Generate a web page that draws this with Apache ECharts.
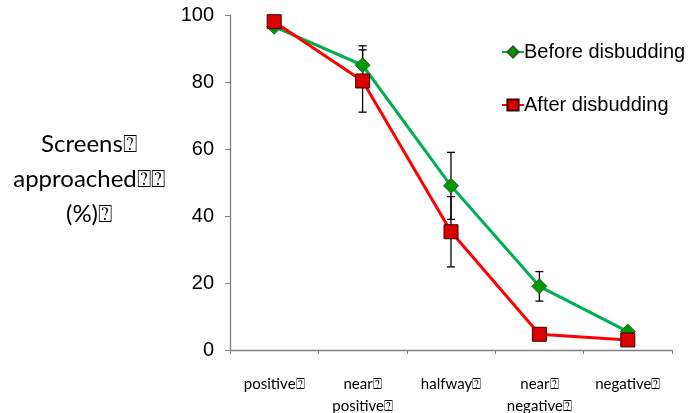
<!DOCTYPE html>
<html><head><meta charset="utf-8">
<script src="https://cdn.jsdelivr.net/npm/echarts@6/dist/echarts.min.js"></script>
<style>html,body{margin:0;padding:0;background:#fff}#c{width:689px;height:413px}</style>
</head><body><div id="c"></div>
<script>
const categories = ['positive⍰', 'near⍰\npositive⍰', 'halfway⍰', 'near⍰\nnegative⍰', 'negative⍰'];
const beforeValues = [96.5, 85, 49, 19, 5.5];
const beforeErr = [0, 5.8, 10, 4.4, 0];
const afterValues = [98, 80.3, 35.3, 4.7, 3];
const afterErr = [0, 9.3, 10.5, 0, 0];
const yTicks = [0, 20, 40, 60, 80, 100];
const seriesNames = ['Before disbudding', 'After disbudding'];
const yAxisTitle = 'Screens⍰\napproached⍰⍰\n(%)⍰';

const chart = echarts.init(document.getElementById('c'), null, {renderer: 'canvas'});

function errSeries(vals, errs, z) {
  return {
    type: 'custom', z: z, silent: true,
    data: vals.map((v, i) => [i, v, errs[i]]),
    encode: {x: 0, y: 1},
    renderItem: function (params, api) {
      const e = api.value(2);
      if (!e) return null;
      const i = api.value(0), v = api.value(1);
      const top = api.coord([i, v + e]);
      const bot = api.coord([i, v - e]);
      const hw = 4;
      const st = {stroke: '#000', lineWidth: 1.3};
      return {type: 'group', children: [
        {type: 'line', shape: {x1: top[0], y1: top[1], x2: bot[0], y2: bot[1]}, style: st},
        {type: 'line', shape: {x1: top[0]-hw, y1: top[1], x2: top[0]+hw, y2: top[1]}, style: st},
        {type: 'line', shape: {x1: bot[0]-hw, y1: bot[1], x2: bot[0]+hw, y2: bot[1]}, style: st}
      ]};
    }
  };
}

chart.setOption({
  animation: false,
  grid: {left: 230, right: 17, top: 15, bottom: 63, containLabel: false, outerBoundsMode: 'none'},
  legend: {
    orient: 'vertical', left: 496, top: 37, itemGap: 33,
    itemWidth: 22, itemHeight: 14,
    textStyle: {fontFamily: 'Liberation Sans, Arial', fontSize: 20, color: '#000', padding: [0,0,0,-5]},
    data: seriesNames
  },
  xAxis: {
    type: 'category', data: categories, boundaryGap: true,
    axisLine: {lineStyle: {color: '#808080', width: 1.3}},
    axisTick: {show: true, length: 4, alignWithLabel: false, lineStyle: {color: '#808080'}},
    axisLabel: {fontFamily: 'Lato, Open Sans, sans-serif', fontSize: 15, color: '#000', margin: 23, lineHeight: 22, verticalAlign: 'top'}
  },
  yAxis: {
    type: 'value', min: 0, max: 100, interval: 20,
    axisLine: {show: true, lineStyle: {color: '#808080', width: 1.3}},
    axisTick: {show: true, length: 5, lineStyle: {color: '#808080'}},
    splitLine: {show: false},
    axisLabel: {fontFamily: 'Liberation Sans, Arial', fontSize: 20, color: '#000', margin: 16,
      formatter: v => yTicks.includes(v) ? String(v) : ''}
  },
  graphic: [{
    type: 'text', x: 89, y: 127,
    style: {text: yAxisTitle, textAlign: 'center', fontFamily: 'Lato, Open Sans, sans-serif', fontSize: 24, lineHeight: 35, fill: '#000'}
  }],
  series: [
    errSeries(beforeValues, beforeErr, 1),
    errSeries(afterValues, afterErr, 1),
    {
      name: seriesNames[0], type: 'line', data: beforeValues, z: 3,
      symbol: 'diamond', symbolSize: 15,
      lineStyle: {color: '#00B050', width: 3},
      itemStyle: {color: '#009900', borderColor: '#2d5a2d', borderWidth: 1}
    },
    {
      name: seriesNames[1], type: 'line', data: afterValues, z: 4,
      symbol: 'rect', symbolSize: 14,
      lineStyle: {color: '#FF0000', width: 3},
      itemStyle: {color: '#DD0000', borderColor: '#3a0000', borderWidth: 1}
    }
  ]
});
</script></body></html>
